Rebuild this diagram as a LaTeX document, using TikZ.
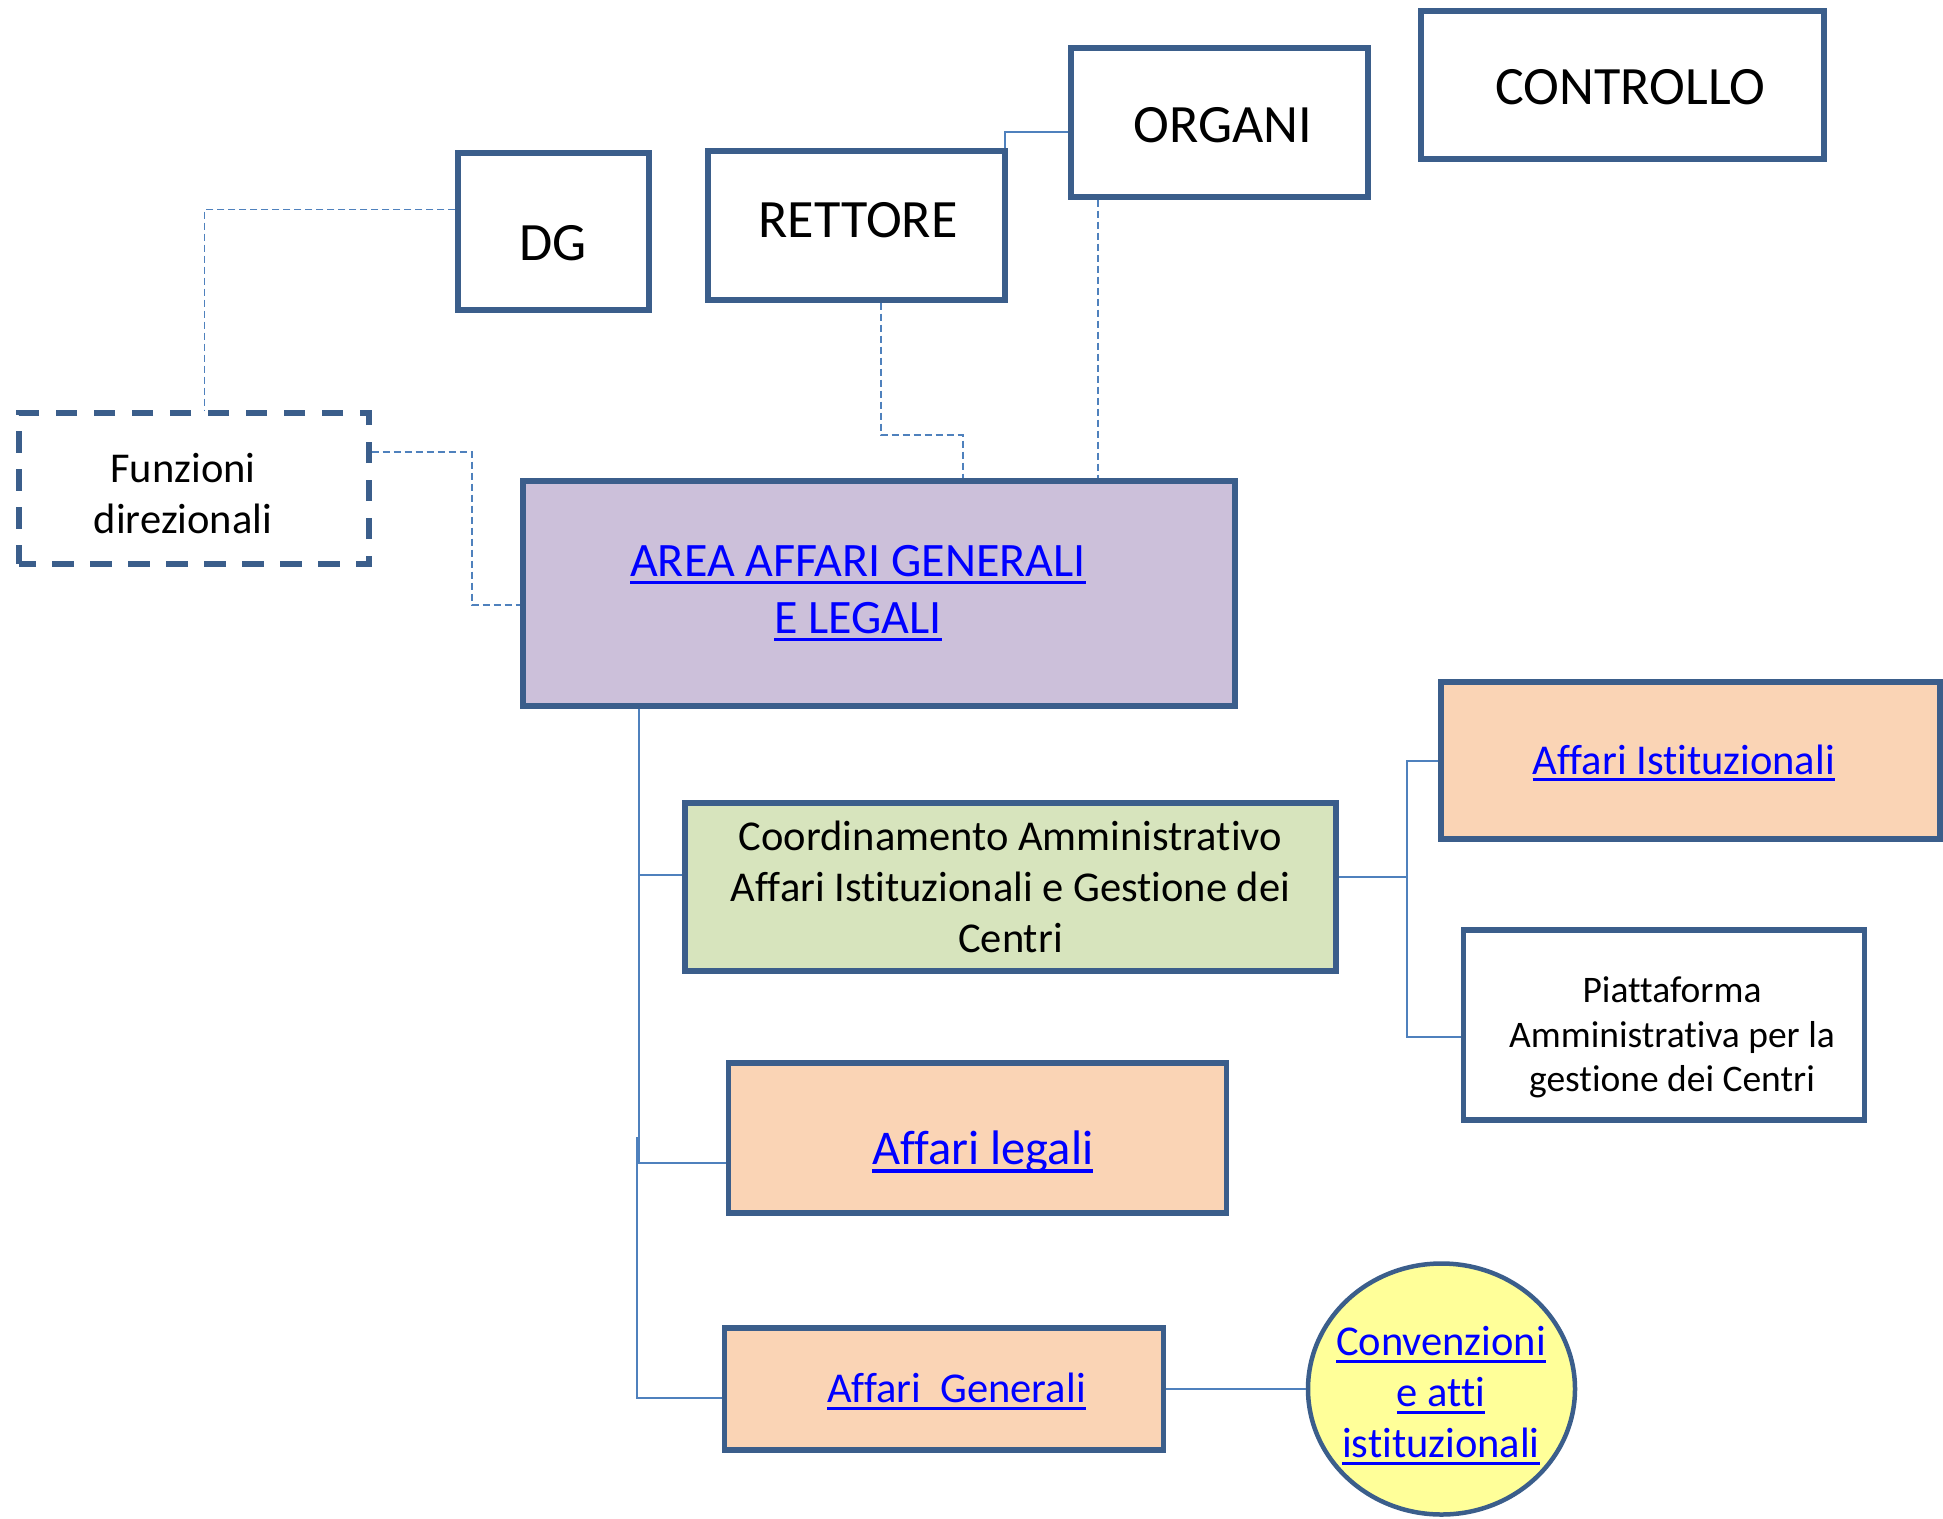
\documentclass[tikz,border=0pt]{standalone}
\usepackage{fontspec}
\setmainfont{Carlito}[Ligatures={NoCommon,NoContextual,NoRare}]
\usetikzlibrary{shapes.geometric}
\definecolor{bord}{HTML}{3B5E8B}
\definecolor{connc}{HTML}{4F81BD}
\definecolor{lav}{HTML}{CCC0DA}
\definecolor{grn}{HTML}{D7E4BD}
\definecolor{peach}{HTML}{FAD4B5}
\definecolor{yel}{HTML}{FFFF99}
\definecolor{lnkblue}{HTML}{0000FF}
\newcommand{\lnk}[1]{\setbox0\hbox{#1}\rlap{\rule[-0.17em]{\wd0}{0.07em}}\box0}
\begin{document}
\begin{tikzpicture}[x=1pt,y=-1pt,
  box/.style={draw=bord, line width=5.3pt, rectangle, inner sep=0pt},
  txt/.style={inner sep=0pt, align=center},
  conn/.style={draw=connc, line width=2pt},
  dconn/.style={draw=connc, line width=1.6pt, dash pattern=on 7pt off 4pt},
  fbig/.style={font=\fontsize{54}{65}\selectfont},
  farea/.style={font=\fontsize{48}{57}\selectfont},
  fleg/.style={font=\fontsize{48.5}{58}\selectfont},
  fmid/.style={font=\fontsize{42.5}{51}\selectfont},
  fsmall/.style={font=\fontsize{37.5}{44.6}\selectfont},
  link/.style={text=lnkblue}
]
\useasboundingbox (0,0) rectangle (1943,1518);

% top boxes
\node[box, minimum width=403pt, minimum height=148pt] (ctrl) at (1622.5,85) {};
\node[txt, fbig] (ctrlt) at (1630.5,87.5) {CONTROLLO};
\node[box, minimum width=297pt, minimum height=149pt] (org) at (1219.5,122.5) {};
\node[txt, fbig] (orgt) at (1223,125) {ORGANI};
\node[box, minimum width=297pt, minimum height=149pt] (ret) at (856.5,225.5) {};
\node[txt, fbig] (rett) at (858,220.6) {RETTORE};
\node[box, minimum width=191pt, minimum height=157pt] (dg) at (553.5,231.5) {};
\node[txt, fbig] (dgt) at (553,243) {DG};

% Funzioni direzionali
\node[box, dash pattern=on 21.5pt off 16.5pt, dash phase=5pt, minimum width=350pt, minimum height=151pt] (fun) at (194,488.5) {};
\node[txt, fmid] (funt) at (183,494) {Funzioni\\direzionali};

% Area
\node[box, fill=lav, minimum width=712pt, minimum height=225pt] (area) at (879,593.5) {};
\node[txt, farea, link] (areat) at (858,593) {\lnk{AREA AFFARI GENERALI}\\\lnk{E LEGALI}};

% children
\node[box, fill=grn, minimum width=651pt, minimum height=168pt] (coord) at (1010.5,887) {};
\node[txt, fmid] (coordt) at (1010.5,887)
  {Coordinamento Amministrativo\\Affari Istituzionali e Gestione dei\\Centri};
\node[box, fill=peach, minimum width=499pt, minimum height=157pt] (istit) at (1690.5,760.5) {};
\node[txt, fmid, link] (istitt) at (1683.7,763) {\lnk{Affari Istituzionali}};
\node[box, minimum width=401pt, minimum height=190pt] (piatt) at (1664,1025) {};
\node[txt, fsmall] (piattt) at (1672,1037.4) {Piattaforma\\Amministrativa per la\\gestione dei Centri};
\node[box, fill=peach, minimum width=498pt, minimum height=150pt] (legali) at (977.7,1138) {};
\node[txt, fleg, link] (legalit) at (982.7,1151.6) {\lnk{Affari legali}};
\node[box, fill=peach, minimum width=438.6pt, minimum height=122pt] (gen) at (944,1389) {};
\node[txt, fmid, link] (gent) at (956.4,1391.5) {\lnk{Affari~~Generali}};
\node[draw=bord, line width=4.5pt, ellipse, fill=yel, inner sep=0pt,
  minimum width=267pt, minimum height=251pt] (conv) at (1441.5,1389) {};
\node[txt, fmid, link] (convt) at (1441,1395.4) {\lnk{Convenzioni}\\\lnk{e atti}\\\lnk{istituzionali}};

% dashed connectors
\draw[dconn] ([yshift=22pt]dg.west) -| ([xshift=10.5pt]fun.north);
\draw[dconn] ([yshift=36.5pt]fun.east) -| (472,605) -- ([yshift=-11.5pt]area.west);
\draw[dconn] ([xshift=24.5pt]ret.south) |- (922,435) -| ([xshift=84pt]area.north);
\draw[dconn] ([xshift=-121.5pt]org.south) -- ([xshift=219pt]area.north);

% solid connectors
\draw[conn] ([yshift=-9pt]org.west) -| ([xshift=-2.5pt]ret.north east);
\draw[conn] ([xshift=-240.5pt]area.south) |- ([yshift=12pt]coord.west);
\draw[conn] ([xshift=-240.5pt]area.south) |- ([yshift=-25pt]legali.west);
\coordinate (gsplit) at (637,1137);
\draw[conn] (gsplit) |- ([yshift=-9pt]gen.west);
\coordinate (csplit) at (1406.5,877);
\draw[conn] ([yshift=10pt]coord.east) -- (csplit) |- (istit.west);
\draw[conn] (csplit) |- ([yshift=-12pt]piatt.west);
\draw[conn] (gen.east) -- (gen.east -| conv.west);
\end{tikzpicture}
\end{document}
